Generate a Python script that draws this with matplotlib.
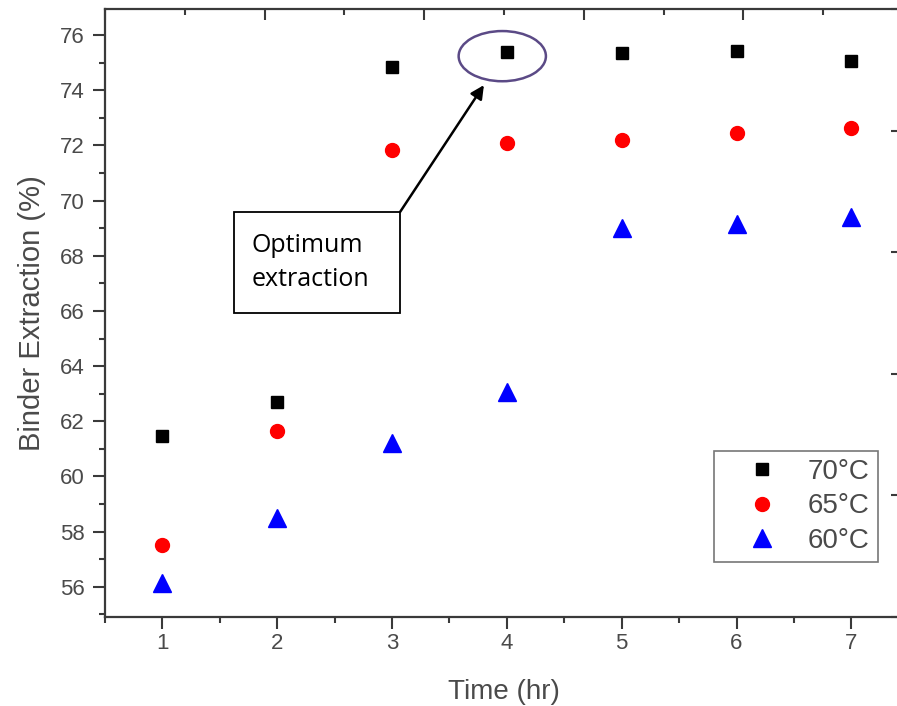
import matplotlib
matplotlib.use("Agg")
import matplotlib.pyplot as plt
from matplotlib.patches import Ellipse, Rectangle
from matplotlib.ticker import MultipleLocator, NullFormatter

plt.rcParams['font.family'] = ['Liberation Sans', 'DejaVu Sans']

time_hr = [1, 2, 3, 4, 5, 6, 7]
t70 = [61.47, 62.68, 74.83, 75.40, 75.37, 75.42, 75.08]
t65 = [57.50, 61.65, 71.83, 72.08, 72.20, 72.44, 72.64]
t60 = [56.15, 58.50, 61.22, 63.07, 69.00, 69.15, 69.40]
labels = ["70°C", "65°C", "60°C"]

axis_col = '#3a3a3a'
text_col = '#4a4a4a'

fig = plt.figure(figsize=(8.97, 7.06), dpi=100)
ax = fig.add_axes([105 / 897, 89 / 706, 798 / 897, 608 / 706])

ax.plot(time_hr, t70, 's', color='black', markersize=9, label=labels[0])
ax.plot(time_hr, t65, 'o', color='red', markersize=10, label=labels[1])
ax.plot(time_hr, t60, '^', color='blue', markersize=12.5, label=labels[2])

ax.set_xlim(0.5, 7.45)
ax.set_ylim(54.9, 76.95)
ax.xaxis.set_major_locator(MultipleLocator(1))
ax.xaxis.set_minor_locator(MultipleLocator(0.5))
ax.yaxis.set_major_locator(MultipleLocator(2))
ax.yaxis.set_minor_locator(MultipleLocator(1))
ax.tick_params(which='major', direction='out', length=8.5, width=1.5,
               color=axis_col, labelsize=16, labelcolor=text_col)
ax.tick_params(axis='x', which='major', pad=3)
ax.tick_params(axis='y', which='major', pad=6)
ax.tick_params(which='minor', direction='out', length=4, width=1.5, color=axis_col)
for s in ax.spines.values():
    s.set_linewidth(1.6)
    s.set_color(axis_col)

ax.set_xlabel("Time (hr)", fontsize=20, color=text_col, labelpad=18)
ax.set_ylabel("Binder Extraction (%)", fontsize=21, color=text_col, labelpad=10)

# secondary scales drawn on top and right as in the original
top = ax.twiny()
top.set_xlim(0, 10)
top.xaxis.set_major_locator(MultipleLocator(2))
top.xaxis.set_minor_locator(MultipleLocator(1))
top.xaxis.set_major_formatter(NullFormatter())
top.tick_params(which='major', direction='in', length=8, width=1.5, color=axis_col)
top.tick_params(which='minor', direction='in', length=4, width=1.5, color=axis_col)
right = ax.twinx()
right.set_ylim(0, 5)
right.yaxis.set_major_locator(MultipleLocator(1))
right.yaxis.set_major_formatter(NullFormatter())
right.tick_params(which='major', direction='in', length=9, width=1.5, color=axis_col)
for a in (top, right):
    for s in a.spines.values():
        s.set_visible(False)

leg = ax.legend(loc='lower right', bbox_to_anchor=(0.969, 0.0905), borderaxespad=0,
                fontsize=20, frameon=True, fancybox=False, handletextpad=0.2,
                borderpad=0.3, labelspacing=0.3, handlelength=2.9)
leg.get_frame().set_edgecolor('#555555')
leg.get_frame().set_linewidth(1.2)
for t in leg.get_texts():
    t.set_color(text_col)

# annotation: ellipse round the optimum point, arrow and text box
opt_x, opt_y = time_hr[3], t70[3]
ax.add_patch(Ellipse((opt_x - 0.04, opt_y - 0.16), 0.76, 1.82, fill=False,
                     edgecolor='#5b4a86', linewidth=1.8, zorder=5))
ax.add_patch(Rectangle((1.62, 65.93), 1.45, 3.66, fill=False,
                       edgecolor='black', linewidth=1.3, zorder=5))
ax.annotate("", xy=(3.80, 74.19), xytext=(3.07, 69.59),
            arrowprops=dict(arrowstyle='-|>', color='black', lw=1.8,
                            mutation_scale=20, shrinkA=0, shrinkB=0))
ax.text(1.78, 67.76, "Optimum\nextraction", fontsize=18, family='Open Sans',
        va='center', ha='left', linespacing=1.45, color='black', zorder=6)

fig.savefig("out.png", dpi=100)
